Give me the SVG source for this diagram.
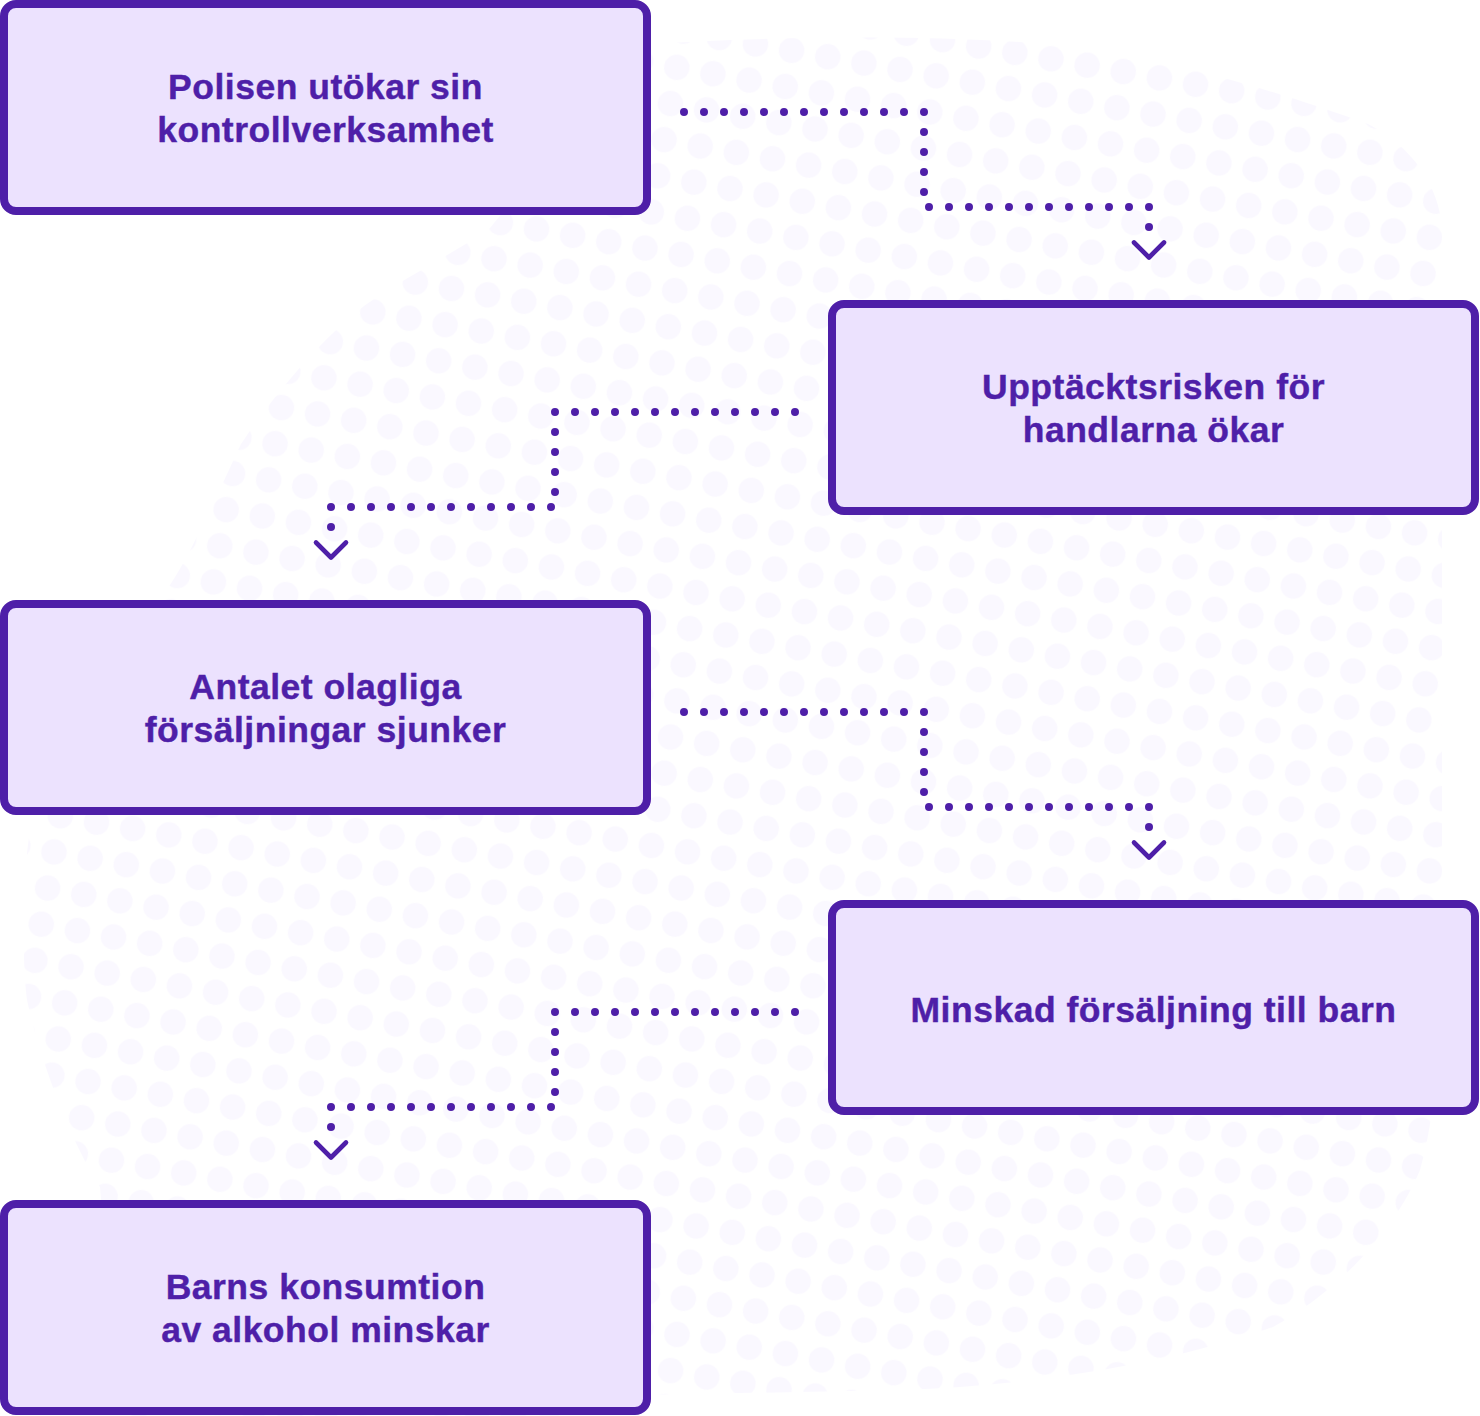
<svg xmlns="http://www.w3.org/2000/svg" width="1480" height="1416" viewBox="0 0 1480 1416">
  <style>
    .box { fill: #ECE2FE; stroke: #4E1FA8; stroke-width: 8; }
    .lbl { font-family: "Liberation Sans", Arial, sans-serif; font-weight: 700; font-size: 35.5px; fill: #4E1FA8; text-anchor: middle; letter-spacing: 0.5px; stroke: #4E1FA8; stroke-width: 0.4px; }
    .dots { fill: none; stroke: #4E1FA8; stroke-width: 8; stroke-linecap: round; stroke-dasharray: 0 20; }
    .dot { fill: #4E1FA8; }
    .chev { fill: none; stroke: #4E1FA8; stroke-width: 4.6; stroke-linecap: round; stroke-linejoin: round; }
  </style>
  <defs>
    <pattern id="bgdots" patternUnits="userSpaceOnUse" width="36.7" height="36.7" patternTransform="translate(54 852) rotate(10) translate(-18.35 -18.35)">
      <circle cx="18.35" cy="18.35" r="12.8" fill="#FAF8FF"/>
    </pattern>
  </defs>
  <rect width="1480" height="1416" fill="#FFFFFF"/>
  <path id="background-dots" fill="url(#bgdots)" d="M 640 45 C 760 36 950 34 1068 46 C 1160 56 1280 92 1368 124 C 1410 145 1440 185 1442 230 L 1442 880 C 1442 1000 1440 1100 1420 1170 C 1395 1230 1340 1290 1273 1327 C 1180 1360 1050 1385 900 1390 L 640 1395 L 640 1416 L 120 1416 L 100 1187 C 70 1140 40 1060 27 1000 C 22 960 22 880 30 830 L 120 640 L 170 585 C 190 555 215 500 241 444 C 270 400 320 340 364 306 C 400 280 460 250 490 228 Z"/>

  <g id="connectors">
    <g id="c1">
      <path class="dots" d="M684 112H925"/>
      <path class="dots" d="M924 132V193"/>
      <path class="dots" d="M929 207H1150"/>
      <circle class="dot" cx="1149" cy="227" r="4"/>
      <path class="chev" d="M1134 242.5L1149 257.5L1164 242.5"/>
    </g>
    <g id="c2">
      <path class="dots" d="M795 412H554"/>
      <path class="dots" d="M555 432V493"/>
      <path class="dots" d="M551 507H330"/>
      <circle class="dot" cx="331" cy="527" r="4"/>
      <path class="chev" d="M316 542.5L331 557.5L346 542.5"/>
    </g>
    <g id="c3">
      <path class="dots" d="M684 712H925"/>
      <path class="dots" d="M924 732V793"/>
      <path class="dots" d="M929 807H1150"/>
      <circle class="dot" cx="1149" cy="827" r="4"/>
      <path class="chev" d="M1134 842.5L1149 857.5L1164 842.5"/>
    </g>
    <g id="c4">
      <path class="dots" d="M795 1012H554"/>
      <path class="dots" d="M555 1032V1093"/>
      <path class="dots" d="M551 1107H330"/>
      <circle class="dot" cx="331" cy="1127" r="4"/>
      <path class="chev" d="M316 1142.5L331 1157.5L346 1142.5"/>
    </g>
  </g>

  <g id="node1">
    <rect class="box" x="4" y="4" width="643" height="207" rx="12"/>
    <text class="lbl" x="325.5" y="99">Polisen utökar sin</text>
    <text class="lbl" x="325.5" y="142">kontrollverksamhet</text>
  </g>
  <g id="node2">
    <rect class="box" x="832" y="304" width="643" height="207" rx="12"/>
    <text class="lbl" x="1153.5" y="399">Upptäcktsrisken för</text>
    <text class="lbl" x="1153.5" y="442">handlarna ökar</text>
  </g>
  <g id="node3">
    <rect class="box" x="4" y="604" width="643" height="207" rx="12"/>
    <text class="lbl" x="325.5" y="699">Antalet olagliga</text>
    <text class="lbl" x="325.5" y="742">försäljningar sjunker</text>
  </g>
  <g id="node4">
    <rect class="box" x="832" y="904" width="643" height="207" rx="12"/>
    <text class="lbl" x="1153.5" y="1022">Minskad försäljning till barn</text>
  </g>
  <g id="node5">
    <rect class="box" x="4" y="1204" width="643" height="207" rx="12"/>
    <text class="lbl" x="325.5" y="1299">Barns konsumtion</text>
    <text class="lbl" x="325.5" y="1342">av alkohol minskar</text>
  </g>
</svg>
